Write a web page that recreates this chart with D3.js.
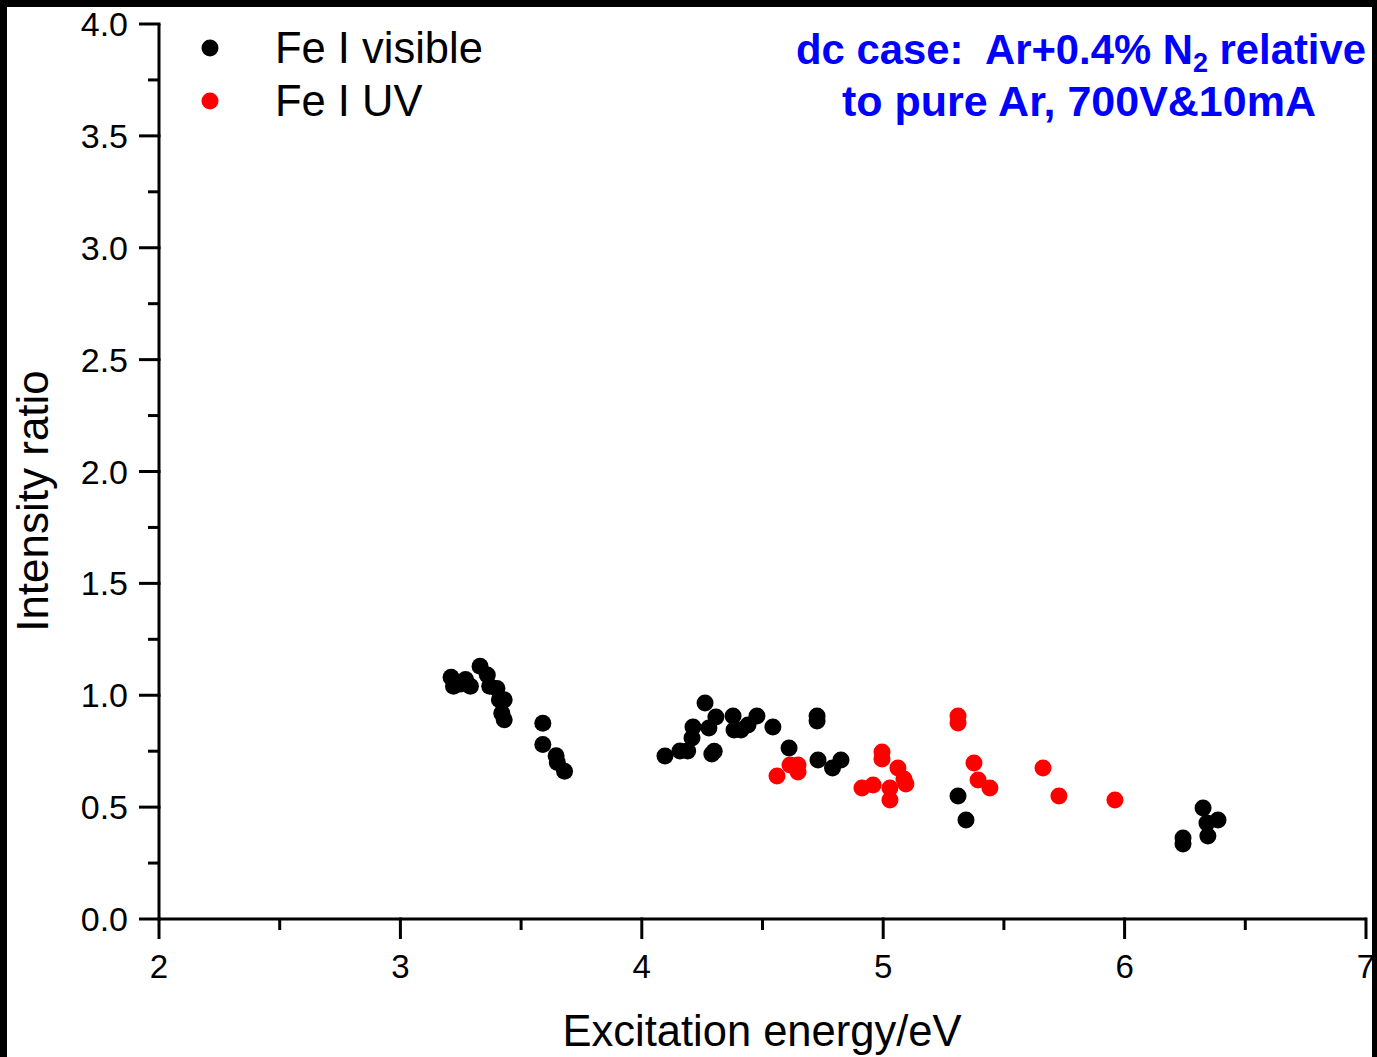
<!DOCTYPE html>
<html>
<head>
<meta charset="utf-8">
<script src="https://cdn.jsdelivr.net/npm/d3@7"></script>
<style>
  html, body { margin: 0; padding: 0; background: #fff; }
  svg { display: block; }
  text { font-family: "Liberation Sans", Arial, sans-serif; }
</style>
</head>
<body>
<script>
// ---- Data ----
const visibleEnergy = [3.21, 3.22, 3.25, 3.27, 3.29, 3.33, 3.36, 3.37, 3.40, 3.41, 3.43, 3.42, 3.43,
  3.59, 3.59, 3.645, 3.65, 3.68,
  4.096, 4.158, 4.19, 4.208, 4.212, 4.262, 4.278, 4.29, 4.30, 4.307, 4.378, 4.382, 4.411, 4.44, 4.477, 4.543,
  4.61, 4.726, 4.726, 4.73, 4.79, 4.825,
  5.31, 5.343,
  6.242, 6.242, 6.325, 6.341, 6.345, 6.387];
const visibleRatio = [1.08, 1.04, 1.05, 1.07, 1.04, 1.13, 1.09, 1.04, 1.03, 0.98, 0.98, 0.92, 0.89,
  0.875, 0.78, 0.73, 0.70, 0.66,
  0.728, 0.751, 0.751, 0.809, 0.858, 0.965, 0.854, 0.737, 0.75, 0.903, 0.907, 0.845, 0.845, 0.867, 0.907, 0.858,
  0.764, 0.907, 0.885, 0.711, 0.675, 0.711,
  0.55, 0.442,
  0.362, 0.335, 0.496, 0.429, 0.371, 0.442];
const uvEnergy = [4.56, 4.614, 4.647, 4.647,
  4.912, 4.958, 4.995, 4.995, 5.028, 5.028, 5.061, 5.086, 5.094,
  5.31, 5.31, 5.376, 5.393, 5.442, 5.662, 5.728, 5.96];
const uvRatio = [0.639, 0.688, 0.688, 0.657,
  0.585, 0.599, 0.746, 0.715, 0.585, 0.532, 0.675, 0.626, 0.603,
  0.907, 0.876, 0.697, 0.621, 0.585, 0.675, 0.55, 0.532];
const xTicks = [2, 3, 4, 5, 6, 7];
const yTicks = [0.0, 0.5, 1.0, 1.5, 2.0, 2.5, 3.0, 3.5, 4.0];
const seriesNames = ["Fe I visible", "Fe I UV"];
const seriesColors = ["#000000", "#ff0000"];
const titleLines = ["dc case:  Ar+0.4% N", "to pure Ar, 700V&10mA"];

// ---- Layout ----
const W = 1377, H = 1057;
const svg = d3.select("body").append("svg").attr("width", W).attr("height", H);

svg.append("rect").attr("x", 0).attr("y", 0).attr("width", W).attr("height", H).attr("fill", "#fff");

const x = d3.scaleLinear().domain([2, 7]).range([159, 1366]);
const y = d3.scaleLinear().domain([0, 4]).range([919, 24]);

// minor ticks
const xMinor = d3.range(2.5, 7, 1);
const yMinor = d3.range(0.25, 4, 0.5);

// X axis
const xAxis = svg.append("g").attr("transform", "translate(0,919)");
xAxis.append("line").attr("x1", x(2)).attr("x2", x(7)).attr("y1", 0).attr("y2", 0)
  .attr("stroke", "#000").attr("stroke-width", 3);
xAxis.selectAll("line.maj").data(xTicks).enter().append("line")
  .attr("x1", d => x(d)).attr("x2", d => x(d)).attr("y1", -1.5).attr("y2", 20)
  .attr("stroke", "#000").attr("stroke-width", 3);
xAxis.selectAll("line.min").data(xMinor).enter().append("line")
  .attr("x1", d => x(d)).attr("x2", d => x(d)).attr("y1", 0).attr("y2", 11)
  .attr("stroke", "#000").attr("stroke-width", 3);
xAxis.selectAll("text").data(xTicks).enter().append("text")
  .attr("x", d => x(d)).attr("y", 59).attr("text-anchor", "middle")
  .attr("font-size", 33).text(d => d3.format("d")(d));

// Y axis
const yAxis = svg.append("g").attr("transform", "translate(159,0)");
yAxis.append("line").attr("x1", 0).attr("x2", 0).attr("y1", y(4)).attr("y2", y(0) + 1.5)
  .attr("stroke", "#000").attr("stroke-width", 3);
yAxis.selectAll("line.maj").data(yTicks).enter().append("line")
  .attr("x1", -20).attr("x2", 1.5).attr("y1", d => y(d)).attr("y2", d => y(d))
  .attr("stroke", "#000").attr("stroke-width", 3);
yAxis.selectAll("line.min").data(yMinor).enter().append("line")
  .attr("x1", -11).attr("x2", 0).attr("y1", d => y(d)).attr("y2", d => y(d))
  .attr("stroke", "#000").attr("stroke-width", 3);
yAxis.selectAll("text").data(yTicks).enter().append("text")
  .attr("x", -31).attr("y", d => y(d) + 12).attr("text-anchor", "end")
  .attr("font-size", 34).text(d => d3.format(".1f")(d));

// Axis titles
svg.append("text").attr("x", 762).attr("y", 1046).attr("text-anchor", "middle")
  .attr("font-size", 43.5).text("Excitation energy/eV");
svg.append("text").attr("transform", "translate(48,501) rotate(-90)").attr("text-anchor", "middle")
  .attr("font-size", 44).text("Intensity ratio");

// Points
const plot = svg.append("g");
plot.selectAll("circle.vis").data(visibleEnergy.map((e, i) => [e, visibleRatio[i]]))
  .enter().append("circle")
  .attr("cx", d => x(d[0])).attr("cy", d => y(d[1])).attr("r", 8.5).attr("fill", seriesColors[0]);
plot.selectAll("circle.uv").data(uvEnergy.map((e, i) => [e, uvRatio[i]]))
  .enter().append("circle")
  .attr("cx", d => x(d[0])).attr("cy", d => y(d[1])).attr("r", 8.5).attr("fill", seriesColors[1]);

// Legend
const legend = svg.append("g");
seriesNames.forEach((name, i) => {
  legend.append("circle").attr("cx", 210).attr("cy", 48 + i * 53).attr("r", 8.5).attr("fill", seriesColors[i]);
  legend.append("text").attr("x", 275).attr("y", 63 + i * 53).attr("font-size", 43.5).text(name);
});

// Title annotation
const t1 = svg.append("text").attr("x", 1081).attr("y", 64).attr("text-anchor", "middle")
  .attr("font-size", 41.8).attr("font-weight", "bold").attr("fill", "#0000ff")
  .attr("xml:space", "preserve").style("white-space", "pre");
t1.append("tspan").text(titleLines[0]);
t1.append("tspan").attr("font-size", 27).attr("dy", 8).text("2");
t1.append("tspan").attr("dy", -8).text(" relative");
svg.append("text").attr("x", 1079).attr("y", 116).attr("text-anchor", "middle")
  .attr("font-size", 43).attr("font-weight", "bold").attr("fill", "#0000ff").text(titleLines[1]);

// Black frame border of the picture
svg.append("rect").attr("x", 0).attr("y", 0).attr("width", 7).attr("height", H).attr("fill", "#000");
svg.append("rect").attr("x", 0).attr("y", 0).attr("width", W).attr("height", 7).attr("fill", "#000");
svg.append("rect").attr("x", 1372).attr("y", 0).attr("width", 5).attr("height", H).attr("fill", "#000");
</script>
</body>
</html>
